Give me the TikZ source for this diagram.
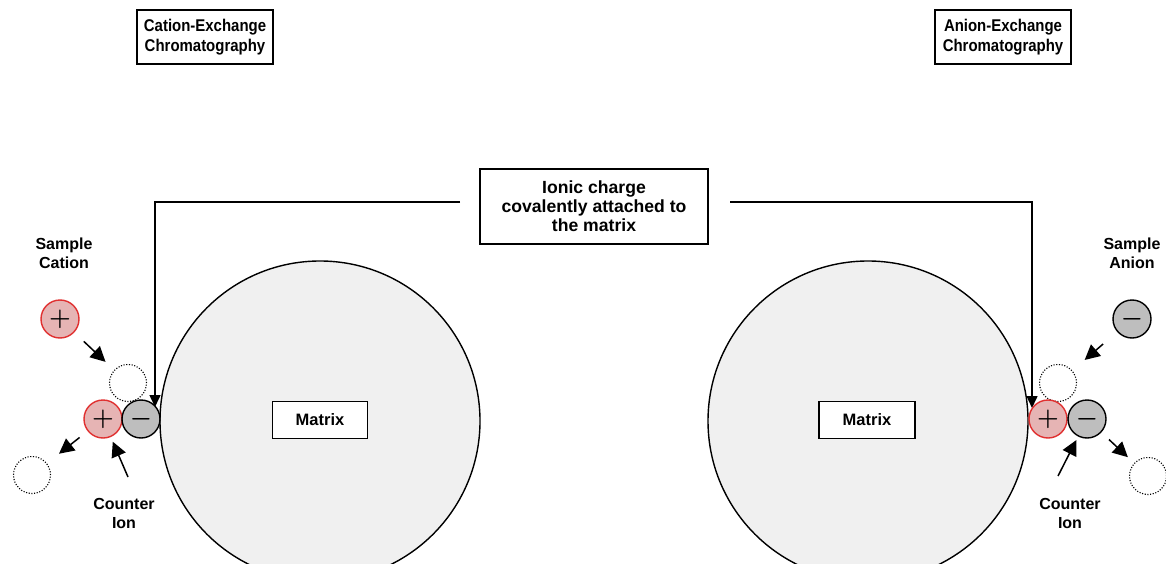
\documentclass[tikz,border=0pt]{standalone}
\usepackage{fontspec}
\setmainfont{Liberation Sans}
\newfontfamily\titlefont[FakeStretch=0.88]{Liberation Sans}
\usetikzlibrary{arrows.meta, positioning, calc}
\definecolor{ionred}{HTML}{E03030}
\definecolor{ionpink}{HTML}{E6B4B4}
\definecolor{iongray}{HTML}{BEBEBE}
\definecolor{beadgray}{HTML}{F0F0F0}

\begin{document}
\begin{tikzpicture}[x=1pt, y=-1pt,
    box/.style={draw, line width=1.6pt, fill=white, align=center, inner sep=0pt, font=\bfseries\fontsize{17.6}{19.5}\selectfont},
    titlebox/.style={box, minimum width=136pt, minimum height=54pt, font=\titlefont\bfseries\fontsize{17}{20}\selectfont},
    bead/.style={circle, draw, line width=1.4pt, fill=beadgray, minimum size=320pt, inner sep=0pt},
    posion/.style={circle, draw=ionred, line width=1.4pt, fill=ionpink, minimum size=38pt, inner sep=0pt, font=\fontsize{24}{24}\selectfont\boldmath},
    negion/.style={circle, draw, line width=1.4pt, fill=iongray, minimum size=38pt, inner sep=0pt, font=\fontsize{24}{24}\selectfont\boldmath},
    gapion/.style={circle, draw, dash pattern=on 1.1pt off 1.6pt, line width=1.1pt, minimum size=37pt, inner sep=0pt},
    lbl/.style={align=center, font=\bfseries\fontsize{16}{19}\selectfont},
    arr/.style={line width=1.5pt, -{Triangle[length=15pt, width=15pt]}},
    link/.style={line width=1.5pt, -{Triangle[length=12pt, width=11pt]}}]
  \useasboundingbox (0,0) rectangle (1166,564);

  % titles
  \node[titlebox] (ctitle) at (205,37) {Cation-Exchange\\Chromatography};
  \node[titlebox] (atitle) at (1003,37) {Anion-Exchange\\Chromatography};

  % beads with matrix labels
  \node[bead] (lbead) at (320,421) {};
  \node[bead] (rbead) at (868,421) {};
  \node[box, minimum width=95pt, minimum height=37pt, font=\bfseries\fontsize{16.5}{19}\selectfont] (lmat) at (320,420) {Matrix};
  \node[box, minimum width=96pt, minimum height=37pt, font=\bfseries\fontsize{16.5}{19}\selectfont] (rmat) at (867,420) {Matrix};

  % ionic charge note
  \node[box, minimum width=228pt, minimum height=75pt, font=\bfseries\fontsize{17.6}{19.2}\selectfont] (ionic) at (594,206.5) {Ionic charge\\covalently attached to\\the matrix};
  \coordinate (lstart) at (460,202);
  \coordinate (ltip) at (155,407);
  \coordinate (rstart) at (730,202);
  \coordinate (rtip) at (1032,408);
  \draw[link] (lstart) -| (ltip);
  \draw[link] (rstart) -| (rtip);

  % cation exchange side
  \node[lbl] (scat) at (64,253) {Sample\\Cation};
  \node[posion] (cat) at (60,319) {$+$};
  \node[gapion] (lgap) at (128,383) {};
  \node[posion] (lplus) at (103,419) {$+$};
  \node[negion] (lminus) at (141,419) {$-$};
  \node[gapion] (lout) at (32,475) {};
  \node[lbl] (lcnt) at (124,513) {Counter\\Ion};
  \coordinate (lcs) at (128,477);
  \draw[arr] ($(cat)!0.35!(lgap)$) -- ($(cat)!0.67!(lgap)$);
  \draw[arr] ($(lplus)!0.33!(lout)$) -- ($(lplus)!0.62!(lout)$);
  \draw[arr, shorten >=5pt] (lcs) -- (lplus);

  % anion exchange side
  \node[lbl] (sani) at (1132,253) {Sample\\Anion};
  \node[negion] (ani) at (1132,319) {$-$};
  \node[gapion] (rgap) at (1058,383) {};
  \node[posion] (rplus) at (1048,419) {$+$};
  \node[negion] (rminus) at (1087,419) {$-$};
  \node[gapion] (rout) at (1148,476) {};
  \node[lbl] (rcnt) at (1070,513) {Counter\\Ion};
  \coordinate (rcs) at (1058,476);
  \draw[arr] ($(ani)!0.39!(rgap)$) -- ($(ani)!0.64!(rgap)$);
  \draw[arr] ($(rminus)!0.36!(rout)$) -- ($(rminus)!0.67!(rout)$);
  \draw[arr, shorten >=4pt] (rcs) -- (rminus);
\end{tikzpicture}
\end{document}
